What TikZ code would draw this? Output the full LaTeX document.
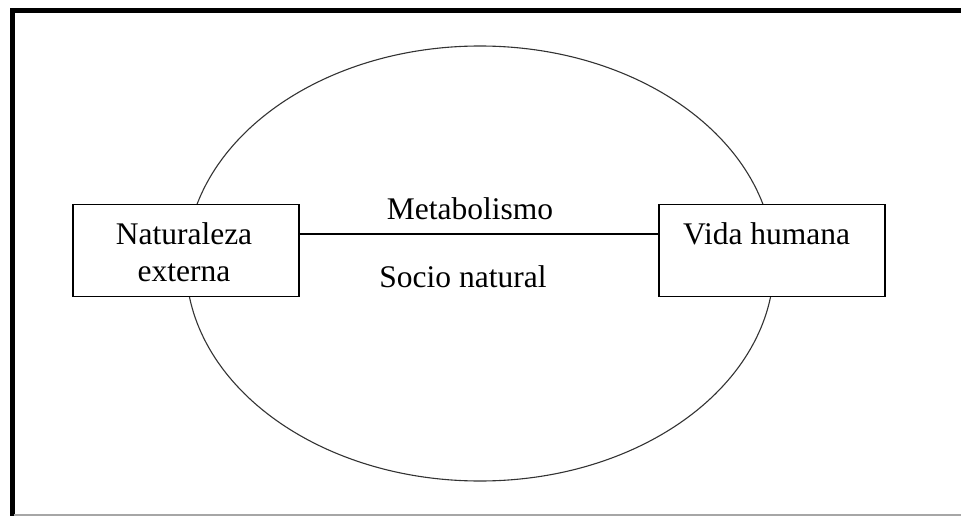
\documentclass[tikz,border=0pt]{standalone}
\usepackage{fontspec}
\setmainfont{Liberation Serif}
\begin{document}
\begin{tikzpicture}[x=1pt,y=-1pt,
  boxst/.style={draw=black,line width=1.6pt,fill=white,rectangle,inner sep=0pt,minimum width=226pt,minimum height=92pt},
  txt/.style={font=\fontsize{31.5pt}{36pt}\selectfont,anchor=base,inner sep=0pt},
  framest/.style={line width=5pt,black}]
\useasboundingbox (0,0) rectangle (961,516);
\fill[white] (0,0) rectangle (961,516);
% frame
\coordinate (fl) at (12,516);
\coordinate (fc) at (12,11);
\coordinate (fr) at (961,11);
\draw[framest,line join=miter] (fl) -- (fc) -- (fr);
\coordinate (bl) at (14,515);
\coordinate (br) at (961,515);
\draw[gray!70,line width=1.5pt] (bl) -- (br);
% ellipse
\draw[line width=1.1pt,black!80] (480,263.5) ellipse [x radius=294pt, y radius=217.5pt];
% boxes
\node[boxst] (nat) at (186,250.5) {};
\node[boxst] (vida) at (772,250.5) {};
\draw[line width=1.6pt] ([yshift=16.5pt]nat.east) -- ([yshift=16.5pt]vida.west);
% texts
\node[txt] (t1) at (184,244) {Naturaleza};
\node[txt] (t2) at (184,281) {externa};
\node[txt,anchor=base west] (t3) at (683,244) {Vida humana};
\node[txt] (t4) at (470,219) {Metabolismo};
\node[txt] (t5) at (463,287) {Socio natural};
\end{tikzpicture}
\end{document}
